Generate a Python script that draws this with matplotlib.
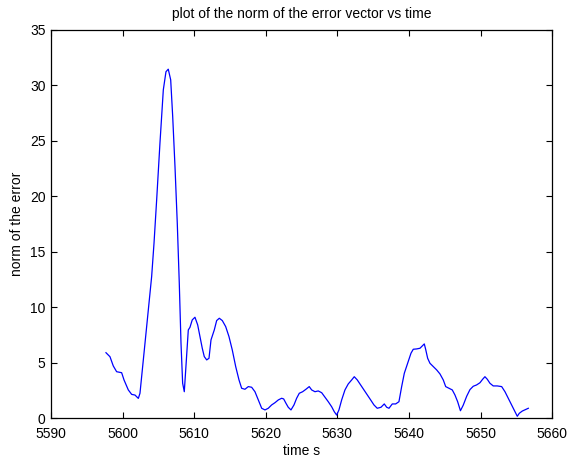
import matplotlib
matplotlib.use('Agg')
import matplotlib.pyplot as plt

plt.rcParams['font.family'] = ['Liberation Sans', 'DejaVu Sans']
plt.rcParams['font.size'] = 10

# time (s) and norm of the error
t = [5597.68, 5598.24, 5598.70, 5599.17, 5599.87, 5600.20, 5600.80, 5601.27,
     5601.73, 5602.20, 5602.43, 5602.75, 5603.13, 5603.60, 5604.06, 5604.39,
     5604.76, 5605.22, 5605.69, 5606.06, 5606.38, 5606.72, 5607.00, 5607.32,
     5607.64, 5607.92, 5608.16, 5608.39, 5608.62, 5608.85, 5609.18, 5609.41,
     5609.73, 5610.11, 5610.49, 5610.81, 5611.13, 5611.41, 5611.75, 5612.07,
     5612.35, 5612.81, 5613.14, 5613.51, 5613.93, 5614.40, 5614.86, 5615.32,
     5615.80, 5616.26, 5616.63, 5617.09, 5617.56, 5618.03, 5618.49, 5618.95,
     5619.43, 5619.89, 5620.35, 5620.82, 5621.28, 5621.75, 5622.22, 5622.50,
     5622.82, 5623.14, 5623.52, 5623.94, 5624.31, 5624.68, 5625.15, 5625.61,
     5626.07, 5626.41, 5626.87, 5627.33, 5627.81, 5628.27, 5628.73, 5629.20,
     5629.57, 5629.90, 5630.22, 5630.60, 5631.06, 5631.52, 5632.00, 5632.36,
     5632.78, 5633.25, 5633.72, 5634.18, 5634.65, 5635.11, 5635.57, 5636.09,
     5636.55, 5636.89, 5637.21, 5637.67, 5638.14, 5638.60, 5638.98, 5639.35,
     5639.82, 5640.28, 5640.60, 5641.08, 5641.54, 5641.86, 5642.14, 5642.33,
     5642.61, 5642.93, 5643.39, 5643.87, 5644.33, 5644.79, 5645.13, 5645.59,
     5646.05, 5646.42, 5646.80, 5647.19, 5647.58, 5648.06, 5648.52, 5648.98,
     5649.45, 5649.92, 5650.29, 5650.61, 5650.94, 5651.31, 5651.77, 5652.33,
     5652.95, 5653.41, 5653.87, 5654.34, 5654.80, 5655.13, 5655.41, 5655.83,
     5656.67]
err = [5.92, 5.56, 4.73, 4.21, 4.12, 3.47, 2.57, 2.17,
       2.11, 1.81, 2.27, 4.37, 6.77, 9.77, 12.77, 15.77,
       19.67, 24.77, 29.57, 31.20, 31.43, 30.47, 27.17, 22.67,
       17.57, 12.17, 6.77, 3.17, 2.41, 4.66, 7.97, 8.20,
       8.87, 9.11, 8.42, 7.37, 6.32, 5.57, 5.27, 5.42,
       7.07, 7.97, 8.81, 9.02, 8.81, 8.27, 7.37, 6.17,
       4.67, 3.47, 2.72, 2.63, 2.87, 2.81, 2.41, 1.67,
       0.92, 0.77, 0.92, 1.22, 1.42, 1.67, 1.82, 1.76,
       1.37, 1.01, 0.77, 1.22, 1.82, 2.27, 2.41, 2.63,
       2.87, 2.57, 2.41, 2.48, 2.32, 1.91, 1.51, 1.06,
       0.61, 0.31, 0.77, 1.67, 2.57, 3.11, 3.47, 3.76,
       3.47, 3.02, 2.57, 2.12, 1.67, 1.22, 0.92, 1.01,
       1.31, 1.01, 0.92, 1.31, 1.31, 1.51, 2.87, 4.07,
       4.97, 5.87, 6.23, 6.26, 6.32, 6.53, 6.71, 6.23,
       5.42, 4.97, 4.67, 4.37, 4.01, 3.47, 2.87, 2.72,
       2.57, 2.12, 1.51, 0.70, 1.20, 2.00, 2.60, 2.90,
       3.02, 3.22, 3.53, 3.76, 3.53, 3.17, 2.93, 2.93,
       2.87, 2.41, 1.82, 1.22, 0.61, 0.20, 0.47, 0.67,
       0.92]

xticks = list(range(5590, 5661, 10))
yticks = list(range(0, 36, 5))

fig = plt.figure(figsize=(5.69, 4.61), dpi=100)
ax = fig.add_axes([0.0896, 0.0922, 0.8808, 0.8438])
ax.plot(t, err, color='#0000ff', linewidth=0.9)

ax.set_xlim(5590, 5660)
ax.set_ylim(0, 35)
ax.set_xticks(xticks)
ax.set_yticks(yticks)
ax.tick_params(direction='in', top=True, right=True, length=4, width=0.8)
ax.tick_params(axis='x', pad=6)
ax.tick_params(axis='y', pad=4)
for s in ax.spines.values():
    s.set_linewidth(0.9)

ax.set_title('plot of the norm of the error vector vs time', fontsize=10, pad=8)
ax.set_xlabel('time s', labelpad=2)
ax.set_ylabel('norm of the error')

fig.savefig('out.png', dpi=100)
